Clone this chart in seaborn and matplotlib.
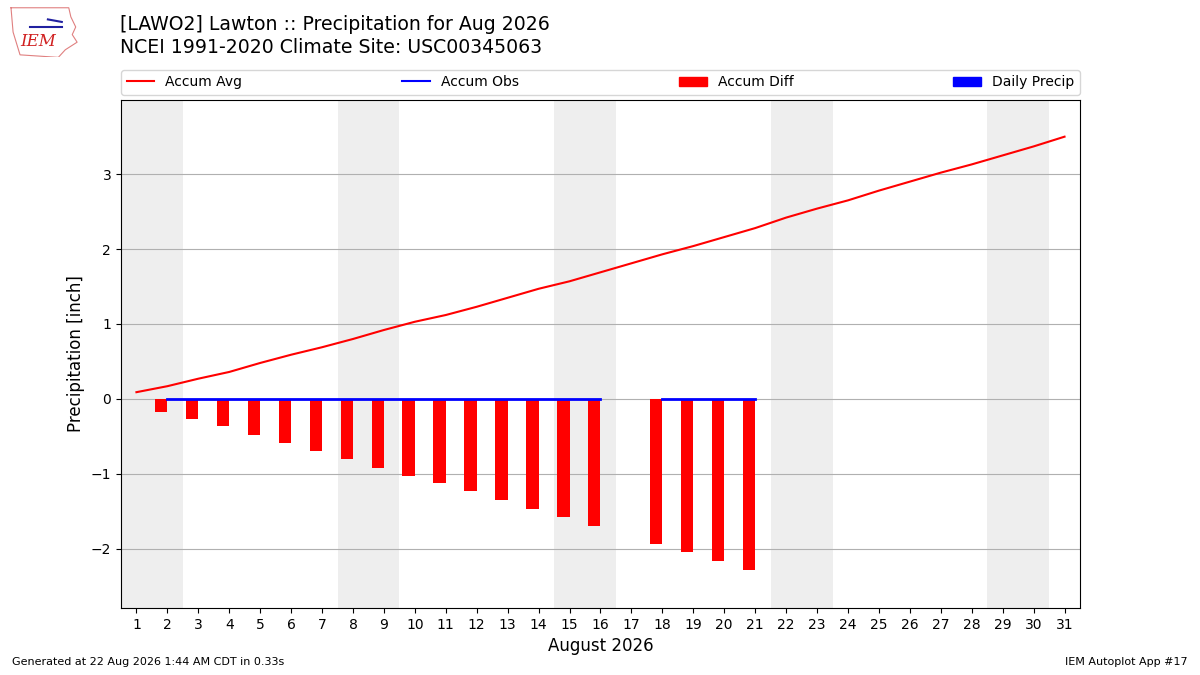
import numpy as np
import matplotlib
matplotlib.use('Agg')
import matplotlib.pyplot as plt
import matplotlib.patches as mpatches
from matplotlib.lines import Line2D
import seaborn as sns
import pandas as pd

# values
days = list(range(1, 32))
accum_avg = [0.09, 0.17, 0.27, 0.36, 0.48, 0.59, 0.69, 0.80, 0.92, 1.03,
             1.12, 1.23, 1.35, 1.47, 1.57, 1.69, 1.81, 1.93, 2.04, 2.16,
             2.28, 2.42, 2.54, 2.65, 2.78, 2.90, 3.02, 3.13, 3.25, 3.37, 3.50]
accum_obs = [np.nan] + [0.0] * 15 + [np.nan] + [0.0] * 4 + [np.nan] * 10
accum_diff = [np.nan, -0.17, -0.27, -0.36, -0.48, -0.59, -0.69, -0.80, -0.92, -1.03,
              -1.12, -1.23, -1.35, -1.47, -1.57, -1.69, np.nan, -1.93, -2.04, -2.16,
              -2.28] + [np.nan] * 10
daily_precip = [np.nan] + [0.0] * 15 + [np.nan] + [0.0] * 4 + [np.nan] * 10
weekends = [(0.5, 2.5), (7.5, 9.5), (14.5, 16.5), (21.5, 23.5), (28.5, 30.5)]

df = pd.DataFrame({'day': days, 'avg': accum_avg, 'obs': accum_obs,
                   'diff': accum_diff, 'precip': daily_precip})

fig = plt.figure(figsize=(12, 6.75), dpi=100)
ax = fig.add_axes([0.1008, 0.0993, 0.7992, 0.7526])

for a, b in weekends:
    ax.axvspan(a, b, color='#eeeeee', zorder=0, lw=0)

ax.bar(df['day'], df['diff'], width=-0.4, align='edge', color='r', zorder=2)
ax.bar(df['day'], df['precip'], width=0.4, align='edge', color='b', zorder=2)
sns.lineplot(data=df, x='day', y='avg', color='r', ax=ax, zorder=3)
ax.plot(df['day'], df['obs'], color='b', lw=2, zorder=3)

ax.set_xlim(0.5, 31.5)
ax.set_ylim(-2.79, 3.99)
ax.set_xticks(days)
ax.set_yticks([-2, -1, 0, 1, 2, 3])
ax.grid(axis='y', color='#b0b0b0', lw=0.8)
ax.set_axisbelow(True)
ax.set_xlabel('August 2026', fontsize=12)
ax.set_ylabel('Precipitation [inch]', fontsize=12)

handles = [Line2D([], [], color='r'), Line2D([], [], color='b'),
           mpatches.Patch(color='r'), mpatches.Patch(color='b')]
ax.legend(handles, ['Accum Avg', 'Accum Obs', 'Accum Diff', 'Daily Precip'],
          loc='lower left', bbox_to_anchor=(0, 1.01, 1, 0.05), mode='expand',
          ncol=4, borderaxespad=0, fontsize=10)

fig.text(0.1, 0.963, '[LAWO2] Lawton :: Precipitation for Aug 2026', fontsize=13.6, va='center')
fig.text(0.1, 0.930, 'NCEI 1991-2020 Climate Site: USC00345063', fontsize=13.6, va='center')
fig.text(0.01, 0.015, 'Generated at 22 Aug 2026 1:44 AM CDT in 0.33s', fontsize=8)
fig.text(0.99, 0.015, 'IEM Autoplot App #17', fontsize=8, ha='right')

# rough logo
lax = fig.add_axes([0.008, 0.915, 0.058, 0.075])
lax.axis('off')
lax.set_xlim(0, 1)
lax.set_ylim(0, 1)
lax.plot([0.02, 0.85, 0.88, 0.95, 0.9, 0.97, 0.8, 0.7, 0.15, 0.05, 0.02],
         [0.98, 0.98, 0.8, 0.6, 0.45, 0.3, 0.15, 0.0, 0.05, 0.5, 0.98],
         color='#e08080', lw=0.8)
lax.text(0.15, 0.22, 'IEM', color='#d02020', fontsize=12, family='serif', style='italic')
lax.plot([0.3, 0.75], [0.6, 0.6], color='#2020a0', lw=1.5)
lax.plot([0.55, 0.75], [0.75, 0.7], color='#2020a0', lw=1.5)

fig.savefig('out.png', dpi=100)
